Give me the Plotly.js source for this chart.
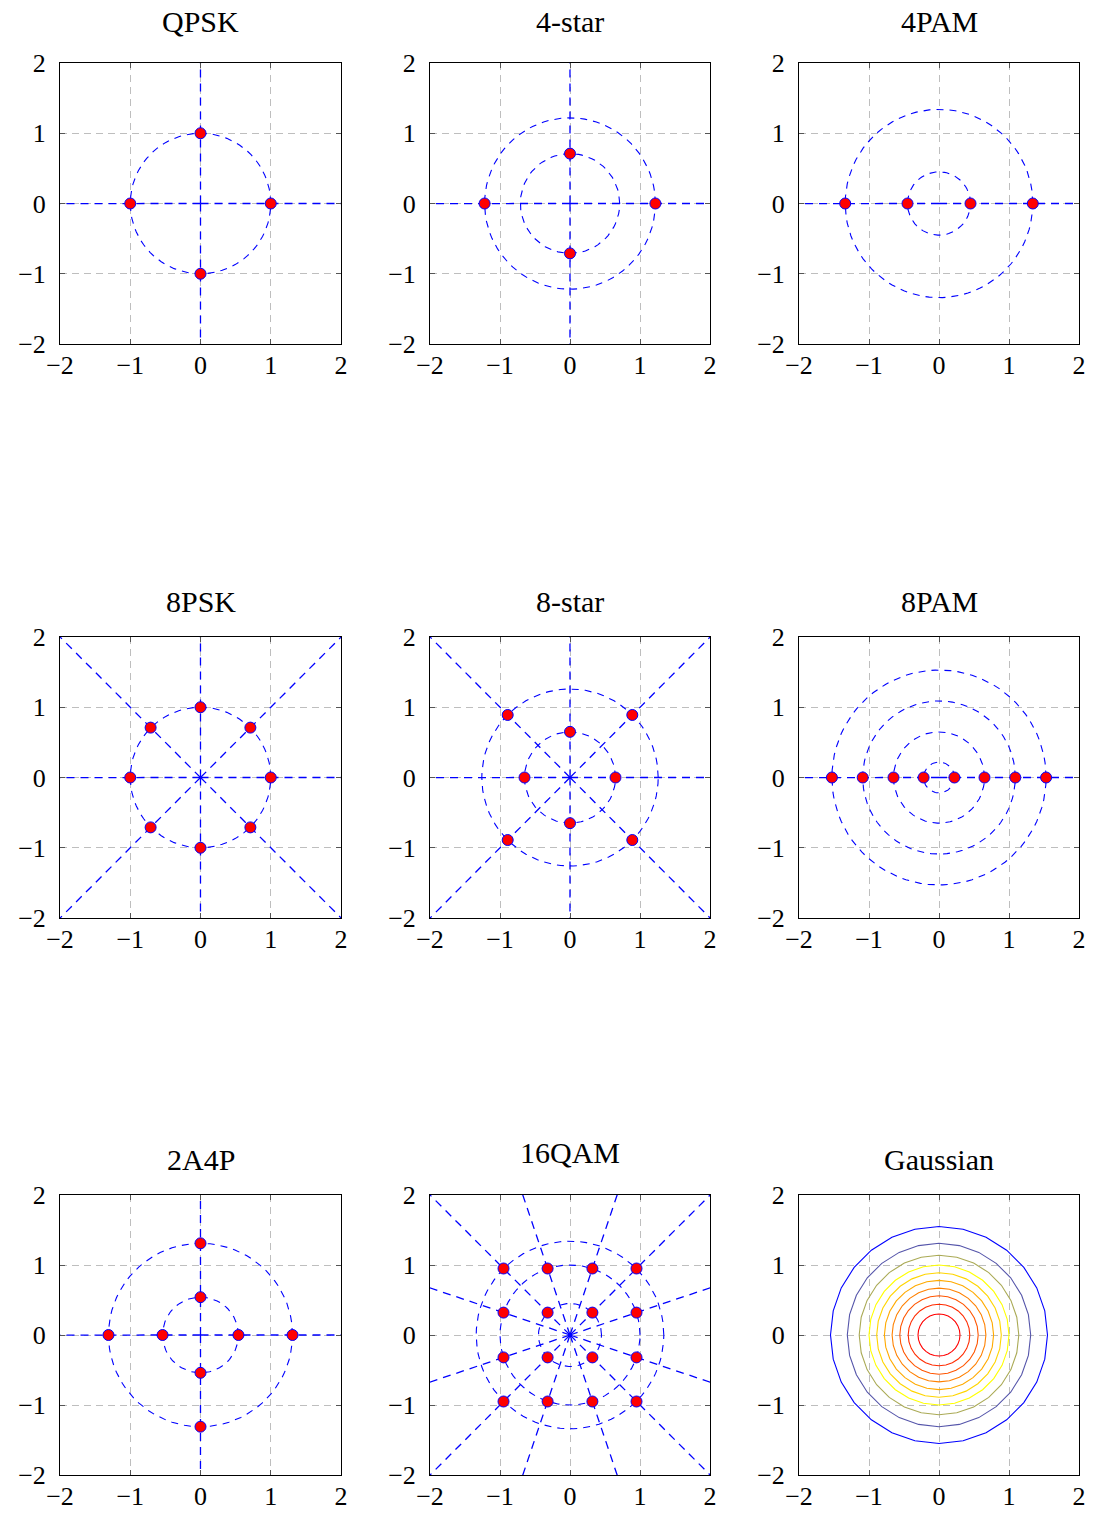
<!DOCTYPE html>
<html><head><meta charset="utf-8">
<script src="https://cdn.plot.ly/plotly-3.0.1.min.js"></script>
<style>body{margin:0;background:#fff}</style>
</head><body><div id="chart" style="width:1095px;height:1513px"></div>
<script>
// ---- data ----
const titles = ['QPSK','4-star','4PAM','8PSK','8-star','8PAM','2A4P','16QAM','Gaussian'];
const tickVals = [-2,-1,0,1,2];

const qpskX = [1, 0, -1, 0];
const qpskY = [0, 1, 0, -1];
const star4X = [1.22, 0, -1.22, 0];
const star4Y = [0, 0.71, 0, -0.71];
const pam4X = [-1.34, -0.45, 0.45, 1.34];
const pam4Y = [0, 0, 0, 0];
const psk8X = [1, 0.71, 0, -0.71, -1, -0.71, 0, 0.71];
const psk8Y = [0, 0.71, 1, 0.71, 0, -0.71, -1, -0.71];
const star8X = [0.65, 0.89, 0, -0.89, -0.65, -0.89, 0, 0.89];
const star8Y = [0, 0.89, 0.65, 0.89, 0, -0.89, -0.65, -0.89];
const pam8X = [-1.53, -1.09, -0.65, -0.22, 0.22, 0.65, 1.09, 1.53];
const pam8Y = [0, 0, 0, 0, 0, 0, 0, 0];
const a2p4X = [0.54, 0, -0.54, 0, 1.31, 0, -1.31, 0];
const a2p4Y = [0, 0.54, 0, -0.54, 0, 1.31, 0, -1.31];
const qam16X = [-0.95, -0.32, 0.32, 0.95, -0.95, -0.32, 0.32, 0.95, -0.95, -0.32, 0.32, 0.95, -0.95, -0.32, 0.32, 0.95];
const qam16Y = [0.95, 0.95, 0.95, 0.95, 0.32, 0.32, 0.32, 0.32, -0.32, -0.32, -0.32, -0.32, -0.95, -0.95, -0.95, -0.95];

// Gaussian contour levels (outer to inner): radius of each level line, and its colour
const gaussRadii = [1.55, 1.31, 1.14, 1.00, 0.89, 0.78, 0.67, 0.56, 0.44, 0.30];
const gaussColors = ['rgb(0,0,255)','rgb(85,85,170)','rgb(170,170,85)','rgb(255,255,0)','rgb(255,213,0)',
                     'rgb(255,170,0)','rgb(255,128,0)','rgb(255,85,0)','rgb(255,43,0)','rgb(255,0,0)'];

const constellations = [
  [qpskX, qpskY], [star4X, star4Y], [pam4X, pam4Y],
  [psk8X, psk8Y], [star8X, star8Y], [pam8X, pam8Y],
  [a2p4X, a2p4Y], [qam16X, qam16Y], null
];

// ---- layout geometry ----
const W = 1095, H = 1513;
const colPx = [[60, 341], [430, 710], [799, 1079]];
const rowPx = [[63, 344], [637, 918], [1195, 1475]];
const titleYPx = [21, 21, 21, 601, 601, 601, 1159, 1152, 1159];
const FONT = '"Liberation Serif", "Times New Roman", serif';
const BLUE = 'rgb(0,0,255)';

function circlePath(r, n) {
  const xs = [], ys = [];
  for (let k = 0; k <= n; k++) { const t = 2 * Math.PI * k / n; xs.push(r * Math.cos(t)); ys.push(r * Math.sin(t)); }
  return [xs, ys];
}

const traces = [];
const layout = {
  width: W, height: H, margin: {l: 0, r: 0, t: 0, b: 0},
  paper_bgcolor: '#fff', plot_bgcolor: '#fff', showlegend: false,
  font: {family: FONT, size: 26, color: '#000'},
  annotations: []
};

for (let i = 0; i < 9; i++) {
  const r = Math.floor(i / 3), c = i % 3;
  const n = i + 1;
  const xa = 'x' + (n === 1 ? '' : n), ya = 'y' + (n === 1 ? '' : n);
  const axCommon = {
    range: [-2, 2], tickvals: tickVals, ticktext: tickVals.map(v => v < 0 ? '\u2212' + Math.abs(v) : String(v)),
    showgrid: true, gridcolor: 'rgb(190,190,190)', griddash: '7px,5px', gridwidth: 1,
    zeroline: false, showline: true, linecolor: '#000', linewidth: 1, mirror: 'ticks',
    ticks: 'inside', ticklen: 5, tickcolor: '#555', tickwidth: 1,
    tickfont: {family: FONT, size: 26, color: '#000'}, fixedrange: true
  };
  layout['xaxis' + (n === 1 ? '' : n)] = Object.assign({}, axCommon, {
    domain: [colPx[c][0] / W, colPx[c][1] / W], anchor: ya, ticklabelstandoff: -2
  });
  layout['yaxis' + (n === 1 ? '' : n)] = Object.assign({}, axCommon, {
    domain: [1 - rowPx[r][1] / H, 1 - rowPx[r][0] / H], anchor: xa, ticklabelstandoff: 8
  });
  layout.annotations.push({
    text: titles[i], xref: 'paper', yref: 'paper',
    x: (colPx[c][0] + colPx[c][1]) / 2 / W, y: 1 - titleYPx[i] / H,
    xanchor: 'center', yanchor: 'middle', showarrow: false,
    font: {family: FONT, size: 30, color: '#000'}
  });

  const cons = constellations[i];
  if (cons) {
    const [px, py] = cons;
    const angles = [], radii = [];
    for (let k = 0; k < px.length; k++) {
      const a = Math.round(Math.atan2(py[k], px[k]) * 1000) / 1000;
      if (!angles.includes(a)) angles.push(a);
      const rr = Math.round(Math.hypot(px[k], py[k]) * 100) / 100;
      if (!radii.includes(rr)) radii.push(rr);
    }
    const rx = [], ry = [];
    angles.forEach(a => { rx.push(0, 3 * Math.cos(a), null); ry.push(0, 3 * Math.sin(a), null); });
    traces.push({type: 'scatter', mode: 'lines', x: rx, y: ry, xaxis: xa, yaxis: ya,
      line: {color: BLUE, width: 1.3, dash: '8px,6px'}, hoverinfo: 'skip'});
    const cx = [], cy = [];
    radii.forEach(rr => { const [a, b] = circlePath(rr, 90); cx.push(...a, null); cy.push(...b, null); });
    traces.push({type: 'scatter', mode: 'lines', x: cx, y: cy, xaxis: xa, yaxis: ya,
      line: {color: BLUE, width: 1.1, dash: '7px,6px'}, hoverinfo: 'skip'});
    traces.push({type: 'scatter', mode: 'markers', x: px, y: py, xaxis: xa, yaxis: ya,
      marker: {color: 'rgb(255,0,0)', size: 11, line: {color: BLUE, width: 1}}});
  } else {
    gaussRadii.forEach((rr, k) => {
      const [a, b] = circlePath(rr, 28);
      traces.push({type: 'scatter', mode: 'lines', x: a, y: b, xaxis: xa, yaxis: ya,
        line: {color: gaussColors[k], width: 1.1}, hoverinfo: 'skip'});
    });
  }
}

Plotly.newPlot('chart', traces, layout, {displayModeBar: false, staticPlot: true});
</script>
</body></html>
